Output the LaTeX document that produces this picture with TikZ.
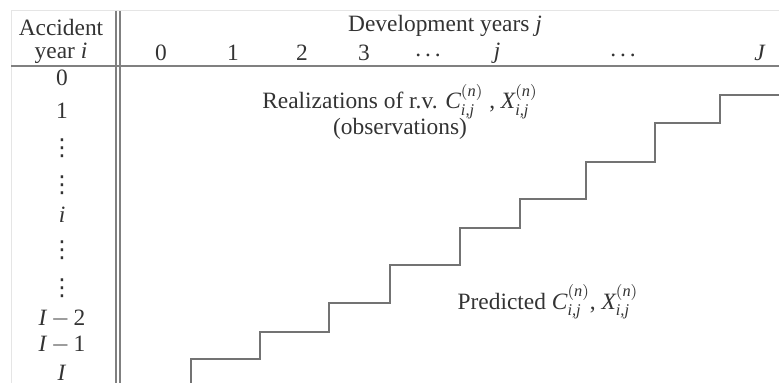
\documentclass[tikz,border=0pt]{standalone}
\usepackage{amsmath}
\usepackage{fontspec}
\setmainfont{Liberation Serif}
\newfontfamily\dotsfont{DejaVu Sans}
\usetikzlibrary{positioning}

% italic letters in the text font, also in sub- and superscripts
\newcommand{\ital}[1]{\text{\itshape #1}}
% vertical dots for the row labels
\newcommand{\rowdots}{{\dotsfont ⋮}}

\begin{document}
\begin{tikzpicture}[
    x=0.5pt, y=-0.5pt,
    lab/.style={font=\fontsize{11.7}{14}\selectfont, text=black!80, inner sep=0pt},
    rowlab/.style={lab, anchor=center},
    collab/.style={lab, anchor=center},
    rule/.style={draw=black!50, line width=0.8pt},
    frame/.style={draw=black!10, line width=0.5pt},
    stair/.style={draw=black!55, line width=0.9pt}
]
\useasboundingbox (0,0) rectangle (779,383);

% --- Frame and rules ---
\draw[frame] (11,383) -- (11,11) -- (779,11);
\draw[rule] (116,11) -- (116,383);
\draw[rule] (120,11) -- (120,383);
\draw[rule] (11,66) -- (779,66);

% --- Header ---
\node[lab] (acc) at (61,28) {Accident};
\node[lab] (yri) at (61,53) {year \textit{i}};
\node[lab] (dev) at (445,26) {Development years \textit{j}};

% Column labels
\node[collab] (c0) at (161,53) {0};
\node[collab] (c1) at (233,53) {1};
\node[collab] (c2) at (302,53) {2};
\node[collab] (c3) at (364,53) {3};
\node[collab] (cd1) at (428,55) {.\,.\,.};
\node[collab] (cj) at (497,53) {\textit{j}};
\node[collab] (cd2) at (623,55) {.\,.\,.};
\node[collab] (cJ) at (760,53) {\textit{J}};

% Row labels
\node[rowlab] (r0) at (62,78) {0};
\node[rowlab] (r1) at (62,111) {1};
\node[rowlab] (rv1) at (62,148) {\rowdots};
\node[rowlab] (rv2) at (62,185) {\rowdots};
\node[rowlab] (ri) at (62,215) {\textit{i}};
\node[rowlab] (rv3) at (62,250) {\rowdots};
\node[rowlab] (rv4) at (62,288) {\rowdots};
\node[rowlab] (rI2) at (62,319) {\textit{I}\,$-$\,2};
\node[rowlab] (rI1) at (62,345) {\textit{I}\,$-$\,1};
\node[rowlab] (rI) at (62,373) {\textit{I}};

% --- Staircase between observed and predicted ---
\draw[stair] (191,383) |- (260,359) |- (329,332) |- (390,303) |- (460,265)
    |- (520,228) |- (586,199) |- (655,162) |- (720,123) |- (779,95);

% Region labels
\node[lab, align=center] (obs) at (400,112) {Realizations of r.v. $\ital{C}_{\ital{i,j}}^{(\ital{n})}$ , $\ital{X}_{\ital{i,j}}^{(\ital{n})}$\\[-1pt](observations)};
\node[lab] (pred) at (548,302) {Predicted $\ital{C}_{\ital{i,j}}^{(\ital{n})}$, $\ital{X}_{\ital{i,j}}^{(\ital{n})}$};

\end{tikzpicture}
\end{document}
